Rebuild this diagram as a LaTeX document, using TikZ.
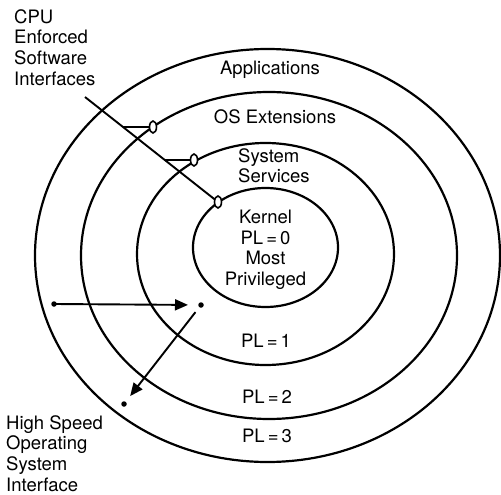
\documentclass[tikz,border=0pt]{standalone}
\usepackage{fontspec}
\setmainfont{TeX Gyre Heros}
\usetikzlibrary{arrows.meta,shapes.geometric}
\begin{document}
\begin{tikzpicture}[x=1pt,y=-1pt,
  ring/.style={line width=2.2pt},
  lbl/.style={font=\fontsize{18.5}{20.7}\selectfont, inner sep=0pt},
  oval/.style={ellipse, draw, line width=1.6pt, fill=white,
               minimum width=7pt, minimum height=12pt, inner sep=0pt},
  tick/.style={line width=1.6pt},
  pointer/.style={line width=1.9pt},
  dotnode/.style={circle, fill, inner sep=0pt, minimum size=5.5pt},
  arr/.style={line width=1.9pt, -{Triangle[length=13pt,width=11pt]}}
]
\useasboundingbox (0,0) rectangle (501,495);

% protection rings, outermost first
\draw[ring] (267.5,255.5) ellipse [x radius=232.5pt, y radius=206.5pt];
\draw[ring] (269,255.5)   ellipse [x radius=188pt,   y radius=163.5pt];
\draw[ring] (265.5,254)   ellipse [x radius=128.5pt, y radius=111pt];
\draw[ring] (265.5,247.5) ellipse [x radius=72.5pt,  y radius=59.5pt];

% ring names
\node[lbl, anchor=base] (apps) at (270,75)  {Applications};
\node[lbl, anchor=base] (osx)  at (275,124) {OS Extensions};
\node[lbl, anchor=base west] (sys1) at (238,162.5) {System};
\node[lbl, anchor=base west] (sys2) at (238,182)   {Services};
\foreach \t [count=\i] in {Kernel,PL\,=\,0,Most,Privileged}
  \node[lbl, anchor=base] (kern\i) at (265.5,202.8+20.7*\i) {\t};

% privilege levels
\node[lbl, anchor=base] (pl1) at (266,347) {PL\,=\,1};
\node[lbl, anchor=base] (pl2) at (267,403) {PL\,=\,2};
\node[lbl, anchor=base] (pl3) at (267,442) {PL\,=\,3};

% side captions
\foreach \t [count=\i] in {CPU,Enforced,Software,Interfaces}
  \node[lbl, anchor=base west] (cpu\i) at (14,2.5+20.7*\i) {\t};
\foreach \t [count=\i] in {High Speed,Operating,System,Interface}
  \node[lbl, anchor=base west] (hsi\i) at (6,408.5+20.7*\i) {\t};

% CPU enforced interfaces: gates on the ring boundaries
\coordinate (diag) at (85,97);
\coordinate (h3) at (123,127);
\coordinate (h2) at (164.8,160);
\draw[pointer] (diag) -- (218,202);
\draw[tick] (h3) -- (153,127);
\draw[tick] (h2) -- (194,160);
\node[oval] (gate3) at (153,127) {};
\node[oval] (gate2) at (194,160) {};
\node[oval] (gate1) at (218,202) {};

% high speed operating system interface
\node[dotnode] (src)  at (54,304)  {};
\node[dotnode] (mid)  at (201,305) {};
\node[dotnode] (dest) at (124,404) {};
\draw[arr, shorten >=13pt] (src.center) -- (mid.center);
\draw[arr, shorten <=9pt, shorten >=10pt] (mid.center) -- (dest.center);
\end{tikzpicture}
\end{document}
